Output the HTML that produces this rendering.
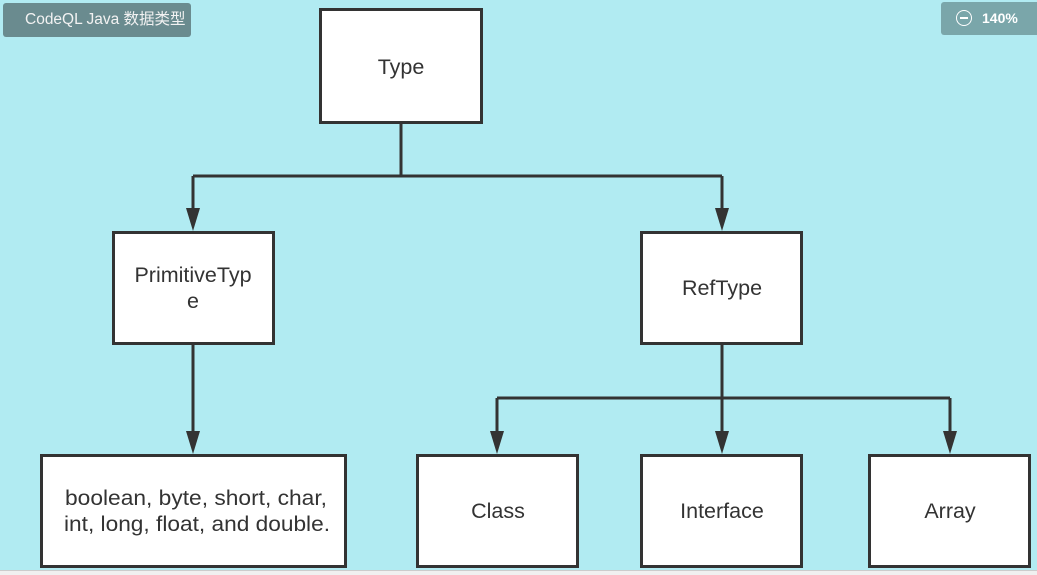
<!DOCTYPE html>
<html><head><meta charset="utf-8"><style>
html,body{margin:0;padding:0;width:1037px;height:574px;overflow:hidden;background:#b1ebf2;font-family:"Liberation Sans","Noto Sans CJK SC",sans-serif;}
.b1{position:absolute;left:3px;top:3px;width:188px;height:34px;background:#6a8b8f;border-radius:3px;color:#f2f2f2;font-size:15.5px;line-height:34px;text-indent:22px;}
.b2{position:absolute;left:941px;top:2px;width:100px;height:33px;background:#7aa6aa;border-radius:3px;color:#fff;font-size:14px;font-weight:bold;line-height:33px;}
.bot{position:absolute;left:0;top:570px;width:1037px;height:4px;background:#f0f0f0;border-top:1px solid #ccc;}
</style></head><body>
<svg width="1037" height="574" style="position:absolute;left:0;top:0">
<g stroke="#333" stroke-width="3" fill="none">
<path d="M401,124 V176 M193,176 H722 M193,176 V212 M722,176 V212 M193,345 V435 M722,345 V435 M497,398 H950 M497,398 V435 M950,398 V435"/>
</g>
<g fill="#333">
<path d="M186,208 L200,208 L193,231 Z"/><path d="M715,208 L729,208 L722,231 Z"/>
<path d="M186,431 L200,431 L193,454 Z"/><path d="M715,431 L729,431 L722,454 Z"/>
<path d="M490,431 L504,431 L497,454 Z"/><path d="M943,431 L957,431 L950,454 Z"/>
</g>
<g fill="#fff" stroke="#333" stroke-width="3">
<rect x="320.5" y="9.5" width="161" height="113"/>
<rect x="113.5" y="232.5" width="160" height="111"/>
<rect x="641.5" y="232.5" width="160" height="111"/>
<rect x="41.5" y="455.5" width="304" height="111"/>
<rect x="417.5" y="455.5" width="160" height="111"/>
<rect x="641.5" y="455.5" width="160" height="111"/>
<rect x="869.5" y="455.5" width="160" height="111"/>
</g>
<g fill="#333" font-family="Liberation Sans,sans-serif" font-size="21.5" text-anchor="middle">
<text x="401" y="74">Type</text>
<text x="193" y="282">PrimitiveTyp</text><text x="193" y="308">e</text>
<text x="722" y="295">RefType</text>
<text x="196" y="505" textLength="262" lengthAdjust="spacingAndGlyphs">boolean, byte, short, char,</text>
<text x="197" y="531" textLength="266" lengthAdjust="spacingAndGlyphs">int, long, float, and double.</text>
<text x="498" y="518">Class</text>
<text x="722" y="518">Interface</text>
<text x="950" y="518">Array</text>
</g>
</svg>
<div class="b1">CodeQL Java 数据类型</div>
<div class="b2"><span style="display:inline-block;width:14px;height:14px;border:1.5px solid #fff;border-radius:50%;vertical-align:-3px;margin:0 10px 0 15px;position:relative"><span style="position:absolute;left:3px;top:6px;width:8px;height:2px;background:#fff"></span></span>140%</div>
<div class="bot"></div>
</body></html>
